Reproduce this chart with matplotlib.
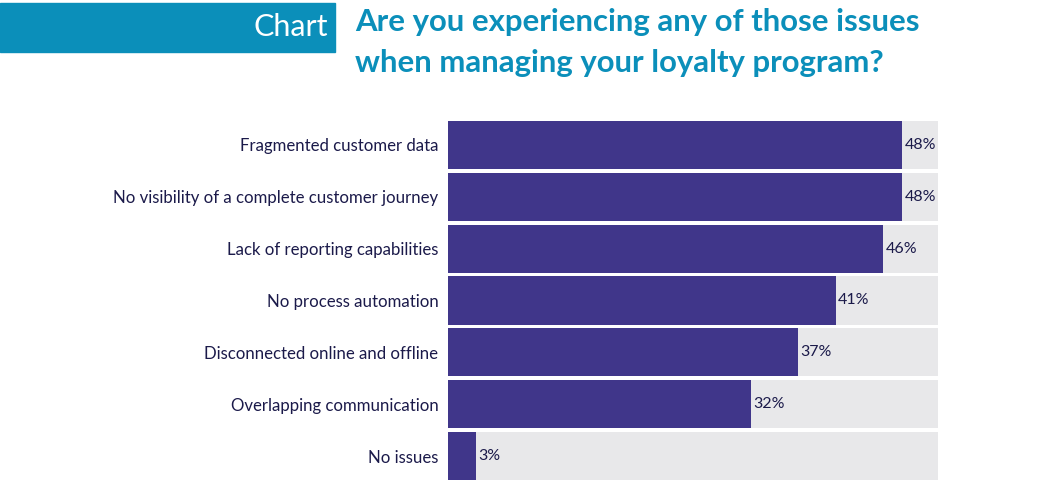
import matplotlib as mpl
mpl.use('Agg')
import matplotlib.pyplot as plt
from matplotlib.patches import Rectangle

# Data
issues = ['Fragmented customer data',
          'No visibility of a complete customer journey',
          'Lack of reporting capabilities',
          'No process automation',
          'Disconnected online and offline',
          'Overlapping communication',
          'No issues']
shares = [48, 48, 46, 41, 37, 32, 3]
track_max = 51.8

bar_color = '#40368a'
track_color = '#e8e8ea'
text_color = '#1b1a4a'
teal = '#0b8fba'

plt.rcParams['font.family'] = ['Lato', 'DejaVu Sans']

W, H = 1039, 493
fig = plt.figure(figsize=(W / 100, H / 100), dpi=100)
ax = fig.add_axes([448 / W, 1 - 482 / H, (938 - 448) / W, (482 - 119) / H])

ypos = list(range(len(issues)))
ax.barh(ypos, [track_max] * len(issues), height=0.93, color=track_color, zorder=1)
ax.barh(ypos, shares, height=0.93, color=bar_color, zorder=2)
for y, v in zip(ypos, shares):
    ax.text(v + 0.25, y, f'{v}%', va='center', ha='left', fontsize=11.5,
            color=text_color, zorder=3)

ax.set_xlim(0, track_max)
ax.set_ylim(len(issues) - 0.5, -0.5)
ax.set_yticks(ypos)
ax.set_yticklabels(issues, fontsize=12.1, color=text_color)
ax.tick_params(axis='y', length=0, pad=7)
ax.set_xticks([])
for s in ax.spines.values():
    s.set_visible(False)

# header banner
fig.patches.append(Rectangle((0, 1 - 52 / H), 335 / W, 49 / H,
                             transform=fig.transFigure, color=teal, zorder=0))
fig.text(328 / W, 1 - 27 / H, 'Chart', color='white', fontsize=22,
         ha='right', va='center')
fig.text(355 / W, 1 - 22 / H, 'Are you experiencing any of those issues',
         color=teal, fontsize=22.4, fontweight='bold', ha='left', va='center')
fig.text(355 / W, 1 - 63 / H, 'when managing your loyalty program?',
         color=teal, fontsize=22.4, fontweight='bold', ha='left', va='center')

plt.savefig('out.png', dpi=100)
plt.close()
